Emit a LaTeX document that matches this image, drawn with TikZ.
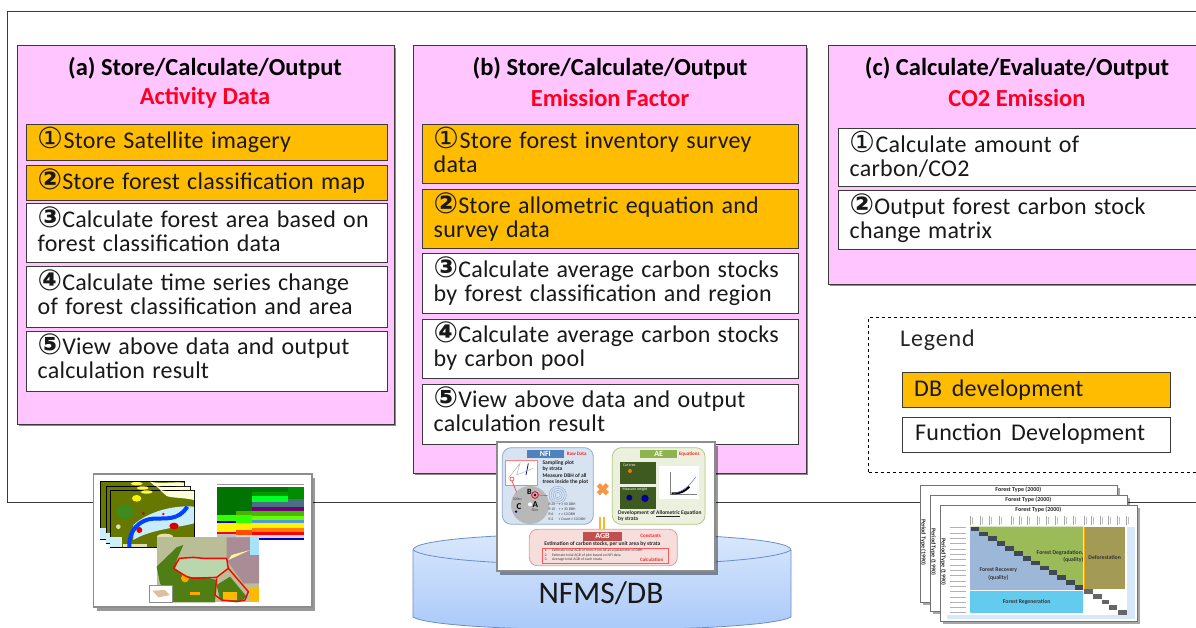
\documentclass[tikz,border=0pt]{standalone}
\usepackage{fontspec}
\setmainfont{Carlito}
\newfontfamily\djv{DejaVu Sans}
\newfontfamily\bodyfam[LetterSpace=1.0,WordSpace=1.4]{Carlito}
\newfontfamily\legfam[LetterSpace=1.0,WordSpace=1.3]{Carlito}
\newfontfamily\legtfam[LetterSpace=3.5]{Carlito}
\usetikzlibrary{shadows,calc}
\definecolor{panelpink}{HTML}{FFC5FF}
\definecolor{dborange}{HTML}{FFBC00}
\definecolor{edgegray}{HTML}{3A3A3A}
\definecolor{headred}{HTML}{FF0022}
\definecolor{satolive}{HTML}{667800}
\definecolor{satgreen}{HTML}{3F8A1C}
\definecolor{cyltop}{HTML}{DCE9FB}
\definecolor{cylbot}{HTML}{A8C8FA}
\definecolor{cylline}{HTML}{6A8FC8}
\definecolor{mxblue}{HTML}{9DB7D8}
\definecolor{mxgreen}{HTML}{9BBB59}
\definecolor{mxolive}{HTML}{A39A55}
\definecolor{mxcyan}{HTML}{63CBEE}
\definecolor{mxpale}{HTML}{D6E8FA}
\definecolor{nfifill}{HTML}{D7E3F1}
\definecolor{nfiline}{HTML}{8AA8CE}
\definecolor{nfihead}{HTML}{4F81BD}
\definecolor{aefill}{HTML}{EBF1DE}
\definecolor{aeline}{HTML}{B0C880}
\definecolor{aehead}{HTML}{8FB44F}
\definecolor{agbfill}{HTML}{F6DEDC}
\definecolor{agbline}{HTML}{E59A96}
\definecolor{agbhead}{HTML}{C0504D}
\definecolor{crossorg}{HTML}{F79646}
\definecolor{mapbase}{HTML}{B9BE96}
\definecolor{mapgreen}{HTML}{4F7F14}
\definecolor{mappale}{HTML}{B9D6AC}
\definecolor{mapmauve}{HTML}{A98C95}
\definecolor{photogreen}{HTML}{3E5A20}
\newcommand{\bodyfont}{\fontsize{24}{23.5}\selectfont\bodyfam}
\newcommand{\cnum}[1]{\smash{\djv\fontsize{29}{23.5}\selectfont #1}}
\newcommand{\cnumb}[1]{\smash{\djv\bfseries\fontsize{29}{23.5}\selectfont #1}}
% rectangle node from corners
\newcommand{\rectnode}[6]{%
  \pgfmathsetmacro{\rw}{#4-#2}\pgfmathsetmacro{\rh}{#5-#3}%
  \pgfmathsetmacro{\rx}{(#2+#4)/2}\pgfmathsetmacro{\ry}{(#3+#5)/2}%
  \node[#6,minimum width=\rw pt,minimum height=\rh pt] (#1) at (\rx,\ry) {};}
\newcommand{\txtbox}[7]{%
  \rectnode{#1}{#2}{#3}{#4}{#5}{#6}%
  \node[boxtext] (#1t) at ($(#1.north west)+(12,4)$) {\rule{0pt}{20pt}#7};}
\tikzset{
  x=1pt,y=-1pt,
  panel/.style={draw=edgegray,line width=1pt,fill=panelpink,inner sep=0,
    drop shadow={shadow xshift=2pt,shadow yshift=-2pt,fill=black,opacity=.45}},
  orangebox/.style={draw=edgegray,line width=1pt,fill=dborange,inner sep=0},
  whitebox/.style={draw=edgegray,line width=1pt,fill=white,inner sep=0},
  boxtext/.style={anchor=north west,inner sep=0,align=left,font=\bodyfont,text=black!90},
  headb/.style={font=\fontsize{24.5}{26}\selectfont\bfseries,text=black,inner sep=0},
  headr/.style={font=\fontsize{24.5}{26}\selectfont\bfseries,text=headred,inner sep=0},
  photo/.style={draw=black!45,line width=1.1pt,fill=white,inner sep=0,
    drop shadow={shadow xshift=3pt,shadow yshift=-4pt,fill=black,opacity=.4}},
  tiny/.style={font=\fontsize{5.5}{6.5}\selectfont\bfseries,inner sep=0,text=black!85},
  tinyr/.style={font=\fontsize{5}{6}\selectfont\bfseries,inner sep=0,text=red!85},
  micro/.style={font=\fontsize{3.8}{4.5}\selectfont,inner sep=0,text=black!75},
  hdrt/.style={font=\fontsize{8}{9}\selectfont\bfseries,inner sep=0,text=white},
  mxlabel/.style={font=\fontsize{5.7}{7.5}\selectfont\bfseries,inner sep=0,text=black!80},
  zoomA/.style={shift={(80,460)},x=.33333pt,y=-.33333pt},
  zoomB/.style={shift={(400,435)},x=.33333pt,y=-.33333pt},
  zoomC/.style={shift={(900,475)},x=.33333pt,y=-.33333pt},
}
\begin{document}
\begin{tikzpicture}
\useasboundingbox (0,0) rectangle (1196,628);
\fill[white] (0,0) rectangle (1196,628);
% outer frame
\coordinate (ftr) at (1196,12);
\coordinate (fbr) at (1196,502);
\coordinate (ftl) at (7.5,12);
\coordinate (fbl) at (7.5,502);
\draw[edgegray,line width=1pt] (ftr) -- (ftl) -- (fbl) -- (fbr);

% panel a
\rectnode{pa}{17}{46}{394}{424}{panel}
\node[headb] (pat) at (205,68) {(a) Store/Calculate/Output};
\node[headr] (par) at (205,98) {Activity Data};
\txtbox{a1}{26}{125}{387}{161}{orangebox}{\cnum{①}Store Satellite imagery}
\txtbox{a2}{26}{166}{387}{201}{orangebox}{\cnumb{②}Store forest classification map}
\txtbox{a3}{26}{204}{387}{263}{whitebox}{\cnumb{③}Calculate forest area based on\\forest classification data}
\txtbox{a4}{26}{267}{387}{327}{whitebox}{\cnumb{④}Calculate time series change\\of forest classification and area}
\txtbox{a5}{26}{331}{387}{391}{whitebox}{\cnumb{⑤}View above data and output\\calculation result}

% panel b
\rectnode{pb}{413}{46}{806}{473}{panel}
\node[headb] (pbt) at (610,68) {(b) Store/Calculate/Output};
\node[headr] (pbr) at (610,98) {Emission  Factor};
\txtbox{b1}{422}{125}{798}{184}{orangebox}{\cnum{①}Store forest inventory survey\\data}
\txtbox{b2}{422}{190}{798}{249}{orangebox}{\cnumb{②}Store allometric equation and\\survey data}
\txtbox{b3}{422}{254}{798}{313}{whitebox}{\cnumb{③}Calculate average carbon stocks\\by forest classification and region}
\txtbox{b4}{422}{319}{798}{378}{whitebox}{\cnumb{④}Calculate average carbon stocks\\by carbon pool}
\txtbox{b5}{422}{384}{798}{444}{whitebox}{\cnumb{⑤}View above data and output\\calculation result}

% panel c
\rectnode{pc}{828}{46}{1210}{284}{panel}
\node[headb] (pct) at (1017,68) {(c) Calculate/Evaluate/Output};
\node[headr] (pcr) at (1017,98) {CO2 Emission};
\txtbox{c1}{838}{129}{1210}{187}{whitebox}{\cnum{①}Calculate amount of\\carbon/CO2}
\txtbox{c2}{838}{191}{1210}{250}{whitebox}{\cnumb{②}Output forest carbon stock\\change matrix}

% legend
\rectnode{lg}{868.5}{317}{1210}{472.5}{draw=black,dashed,line width=.9pt,inner sep=0}
\node[anchor=west,inner sep=0,font=\fontsize{24}{24}\selectfont\legtfam,text=black!85] (lgt) at (900,340) {Legend};
\rectnode{ld}{902}{372}{1170}{407}{orangebox}
\node[anchor=west,inner sep=0,font=\fontsize{24}{24}\selectfont\legfam,text=black!90] (ldt) at (914,390) {DB development};
\rectnode{lf}{902}{417}{1170}{452}{whitebox}
\node[anchor=west,inner sep=0,font=\fontsize{24}{24}\selectfont\legfam,text=black!90] (lft) at (915,434) {Function Development};

% cylinder
\shade[top color=cyltop,bottom color=cylbot,draw=cylline,line width=.8pt]
  (413,550) -- (413,617) .. controls (440,634) and (760,634) .. (791,617) -- (791,550)
  .. controls (791,528) and (413,528) .. (413,550) -- cycle;
\draw[cylline,line width=.8pt] (413,550) .. controls (440,570) and (760,570) .. (791,550);
\node[inner sep=0,font=\fontsize{31.5}{36}\selectfont,text=black!90] (cyl) at (601,593) {NFMS/DB};

% ------- image 1 (activity data)
\rectnode{imA}{93.5}{474}{312}{607}{photo}
\begin{scope}[zoomA]
  \foreach \dx/\dy in {60/65,78/78,90/90}{
    \begin{scope}[shift={(\dx,\dy)}]
      \draw[black,line width=.8pt,fill=satolive] (0,0) rectangle (252,172);
      \begin{scope}
        \clip (0,0) rectangle (252,172);
        \fill[white!85!yellow] (150,0) .. controls (180,8) and (220,0) .. (252,3) -- (252,30)
           .. controls (220,22) and (190,25) .. (170,18) -- cycle;
        \fill[yellow] (80,25) circle[x radius=14,y radius=10];
        \fill[yellow!70!white] (110,6) circle[x radius=18,y radius=5];
        \fill[satgreen] (45,65) circle[x radius=26,y radius=22];
        \fill[cyan!22!white] (70,105) .. controls (120,60) and (200,45) .. (252,50) -- (252,100) .. controls (210,112) and (120,118) .. (70,150) -- cycle;
        \fill[white!80!cyan] (0,140) rectangle (35,172);
        \fill[white!75!olive] (40,162) rectangle (110,172);
        \fill[white!75!olive] (165,140) circle[x radius=24,y radius=9];
        \fill[white!75!olive] (25,110) circle[radius=7];
        \draw[blue!75!cyan,line width=4pt] (58,172) .. controls (55,120) and (90,88) .. (130,86) .. controls (170,84) and (205,92) .. (232,50);
        \fill[red!85!black] (88,120) circle[radius=9];
        \fill[red!85!black] (192,108) circle[x radius=14,y radius=10];
        \fill[red!85!black] (100,70) circle[radius=5];
        \fill[red!85!black] (160,72) circle[radius=4];
      \end{scope}
    \end{scope}
  }
  % legend table
  \fill[black!40] (410,72) rectangle (672,76);
  \foreach \a/\b/\cc in {80/165/green!45!black,165/183/green!80!yellow,183/190/blue!80!black,190/215/yellow,215/222/red,222/232/black!25}
    {\fill[\cc] (410,\a) rectangle (467,\b);}
  \foreach \a/\b/\cc in {80/153/green!45!black,153/165/green!40!olive,165/190/green!80!yellow,190/210/yellow,210/225/orange!60!red,225/232/black!15}
    {\fill[\cc] (469,\a) rectangle (515,\b);}
  \foreach \a/\b/\cc in {80/95/green!45!black,95/108/green!60!black,108/125/green!85!cyan,125/140/cyan!45!black,140/153/violet!90!black,153/168/green!45!olive,168/180/green!60!yellow,180/190/cyan!60!blue!70!white,190/205/yellow,205/215/orange,215/225/red,225/233/red!25!black!15,233/240/blue!80!black}
    {\fill[\cc] (515,\a) rectangle (672,\b);}
  \fill[green!55!black] (625,80) rectangle (672,118);
  \fill[cyan!45!black] (625,118) rectangle (672,138);
  % map
  \fill[mapbase] (230,232) rectangle (537,427);
  \fill[mapmauve] (440,232) -- (510,232) -- (510,285) -- (537,285) -- (537,370) -- (490,370) -- (440,300) -- cycle;
  \fill[cyan!35!white] (510,232) rectangle (537,285);
  \fill[white!60!yellow] (445,300) -- (510,270) -- (455,285) -- cycle;
  \fill[mapgreen] (230,320) -- (290,262) -- (310,255) -- (290,300) -- (290,330) -- (410,360) -- (405,427) -- (280,427) -- (240,370) -- cycle;
  \fill[mappale] (285,325) -- (300,297) -- (440,297) -- (440,325) -- (410,352) -- (320,350) -- cycle;
  \fill[mapgreen] (410,375) -- (450,350) -- (500,410) -- (480,425) -- (420,420) -- cycle;
  \fill[orange!70!yellow] (330,395) rectangle (360,405);
  \fill[orange!70!yellow] (315,355) circle[radius=12];
  \fill[orange!55!yellow] (430,395) rectangle (470,420);
  \fill[orange!55!yellow] (510,385) rectangle (537,425);
  \draw[red,line width=1.4pt,line join=round] (280,325) -- (298,295) -- (340,292) -- (370,295) -- (440,295) -- (445,325) -- (410,352) -- (340,355) -- (320,350) -- cycle;
  \draw[red,line width=1.4pt,line join=round] (445,325) -- (505,395) -- (495,420) -- (470,425) -- (425,420) -- (405,405) -- (410,355);
  \draw[black!45,fill=white] (207,377) rectangle (278,427);
  \fill[brown!50!white] (217,392) -- (255,390) -- (270,405) -- (235,412) -- cycle;
\end{scope}

% ------- image 2 (NFI/AE/AGB)
\rectnode{imB}{497}{442}{715}{571}{photo}
\begin{scope}[zoomB]
  % NFI
  \draw[nfiline,line width=.8pt,fill=nfifill,rounded corners=9pt] (307,38) rectangle (580,268);
  \fill[nfihead] (380,44) rectangle (492,70) node[midway,hdrt] (nfih) {NFI};
  \node[tinyr] (nfir) at (530,58) {Raw Data};
  \draw[red!50!white,line width=.8pt,fill=white] (316,75) rectangle (412,150);
  \draw[blue!50!black,line width=.7pt] (385,85) -- (378,120);
  \draw[black!30,line width=.5pt] (325,130) -- (360,85) -- (350,120) -- (400,100);
  \node[tiny,anchor=north west,align=left] (nfi1) at (427,75) {Sampling plot\\by strata};
  \node[tiny,anchor=north west,align=left] (nfi2) at (427,115) {Measure DBH of all\\trees inside the plot};
  \fill[black!28] (390,210) circle[radius=57];
  \draw[red!70!white,line width=.7pt,fill=white] (336,132) circle[radius=6];
  \draw[red!70!white,line width=.7pt] (336,138) -- (350,172);
  \draw[red!70!white,line width=.7pt] (415,180) -- (443,182);
  \draw[red,line width=.8pt] (405,180) circle[radius=10];
  \fill[blue!50!black] (405,180) circle[radius=4];
  \fill[white] (390,208) circle[radius=6];
  \fill[blue!60!black] (348,230) circle[radius=4];
  \node[font=\fontsize{9}{9}\selectfont\bfseries,inner sep=0] (la) at (406,208) {A};
  \node[font=\fontsize{8}{9}\selectfont\bfseries,inner sep=0] (lb) at (388,172) {B};
  \node[font=\fontsize{9}{9}\selectfont\bfseries,inner sep=0] (lc) at (357,215) {C};
  \node[micro] (l50) at (405,227) {50m};
  \node[micro] (l300) at (352,192) {300m};
  \foreach \r in {8,14,20,26}{\draw[nfiline,line width=.4pt] (473,180) circle[radius=\r];}
  \node[micro,anchor=north west,align=left] (nfi3) at (445,203) {R 20\quad r ≥ 50 DBH\\[.4pt]R 10\quad r ≥ 30 DBH\\[.4pt]R 6\quad\ \ r ≥ 10 DBH\\[.4pt]R 2\quad\ \ r Count ≥ 10 DBH};
  % cross and equals
  \draw[crossorg,line width=4.5pt] (595,149) -- (622,176) (622,149) -- (595,176);
  \fill[crossorg!70!yellow] (597,246) rectangle (604,282);
  \fill[crossorg!70!yellow] (608,246) rectangle (615,282);
  % AE
  \draw[aeline,line width=.8pt,fill=aefill,rounded corners=9pt] (637,38) rectangle (915,268);
  \fill[aehead] (720,44) rectangle (832,70) node[midway,hdrt] (aeh) {AE};
  \node[tinyr] (aer) at (868,58) {Equations};
  \fill[photogreen] (660,80) rectangle (767,148);
  \fill[orange!90!red] (690,108) circle[radius=6];
  \fill[photogreen] (660,155) rectangle (767,222);
  \fill[blue!60!black] (688,188) circle[radius=9];
  \fill[blue!60!black] (735,190) circle[radius=11];
  \node[micro,text=white] (ph1) at (688,90) {Cut tree};
  \node[micro,text=white] (ph2) at (705,163) {Measure weight};
  \fill[white] (777,92) rectangle (898,193);
  \draw[black!50,line width=.4pt] (810,110) -- (810,178) -- (890,178);
  \draw[black,line width=2pt] (815,175) .. controls (845,177) and (858,165) .. (868,155);
  \draw[blue!60!white,line width=.5pt] (820,176) .. controls (850,170) and (870,150) .. (888,125);
  \node[tiny,anchor=north west,align=left] (aet) at (654,226) {Development of \underline{Allometric} Equation\\by  strata};
  % AGB
  \draw[agbline,line width=.8pt,fill=agbfill,rounded corners=8pt] (388,283) rectangle (832,392);
  \fill[agbhead] (548,290) rectangle (667,318) node[midway,hdrt] (agbh) {AGB};
  \node[tinyr] (agbr) at (752,302) {Constants};
  \node[tiny] (agbt) at (607,330) {\underline{Estimation of carbon stocks, per unit area by strata}};
  \draw[red!65!white,line width=.8pt] (427,340) rectangle (805,386);
  \node[micro,anchor=north west,align=left] (agbl) at (433,342) {1.\quad\ Estimate total AGB of trees from AE as a parameter of DBH\\[-.2pt]2.\quad\ Estimate total AGB of plot based on NFI data\\[-.2pt]3.\quad\ Average total AGB of each strata};
  \node[tinyr] (agbc) at (755,375) {Calculation};
\end{scope}

% ------- image 3 (matrix)
\begin{scope}[zoomC]
  \foreach \dx/\dy/\nm in {60/32/s1,90/60/s2,120/90/s3}{
    \begin{scope}[shift={(\dx,\dy)}]
      \fill[black,opacity=.35] (8,8) rectangle (600,358);
      \draw[black!55,line width=.9pt,fill=white] (0,0) rectangle (592,350);
      \node[tiny,font=\fontsize{6}{7}\selectfont\bfseries] (\nm h) at (295,13) {Forest Type (2000)};
      \node[tiny,font=\fontsize{6}{7}\selectfont\bfseries,rotate=-90] (\nm v) at (10,170) {Period Type (1990)};
    \end{scope}
  }
  \fill[white] (140,112) rectangle (705,432);
  \foreach \yy in {158,174,190,206,222,238,254,270,286,302,318,334,350,366,382,398,412}
    {\draw[black!30,line width=.5pt] (150,\yy) -- (198,\yy);}
  \foreach \xx in {210,240,268,297,335,357,382,412,438,465,493,520,553,575,600,625,652,680}
    {\draw[black!35,line width=.4pt] (\xx,122) -- (\xx,150);
     \draw[black!25,line width=.4pt] (\xx+6,125) -- (\xx+6,148);}
  \fill[mxblue] (210,155) -- (210,345) -- (550,345) -- cycle;
  \fill[mxgreen] (210,155) -- (550,155) -- (550,345) -- cycle;
  \fill[mxolive] (553,155) rectangle (675,342);
  \draw[orange!70!yellow,line width=1pt] (553,155) -- (553,342);
  \fill[mxcyan] (210,347) rectangle (550,415);
  \fill[mxpale] (680,155) rectangle (705,432);
  \fill[mxpale] (140,420) rectangle (705,432);
  \foreach \i in {0,...,12}{
    \pgfmathsetmacro{\px}{212+\i*26}\pgfmathsetmacro{\py}{155+\i*14.6}
    \fill[black!60!mxblue] (\px,\py) rectangle ++(26,14);
  }
  \fill[black!60] (552,343) rectangle ++(26,13);
  \fill[black!60] (578,358) rectangle ++(28,14);
  \fill[black!60] (606,374) rectangle ++(20,14);
  \fill[black!60] (626,390) rectangle ++(26,14);
  \fill[black!60] (655,405) rectangle ++(25,14);
  \node[mxlabel,align=center] (mx1) at (295,297) {Forest Recovery\\(quality)};
  \node[mxlabel,align=right] (mx2) at (480,245) {Forest Degradation,\\(quality)};
  \node[mxlabel] (mx3) at (614,248) {Deforestation};
  \node[mxlabel] (mx4) at (380,381) {Forest Regeneration};
\end{scope}
\end{tikzpicture}
\end{document}
